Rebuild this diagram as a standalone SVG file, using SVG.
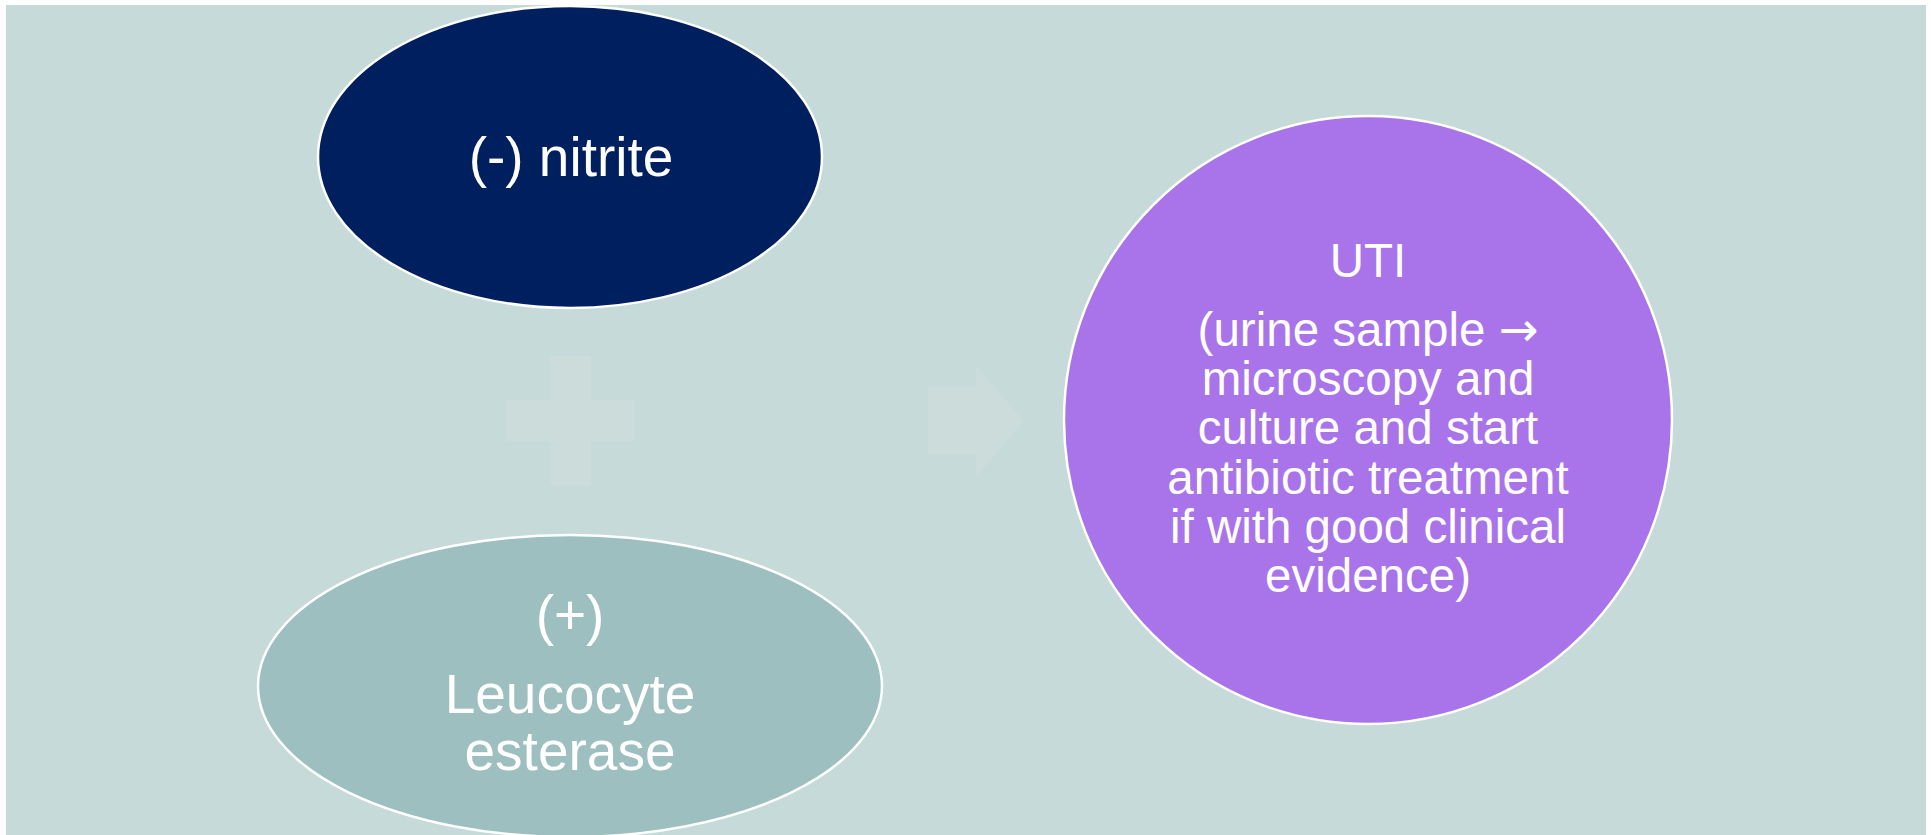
<svg xmlns="http://www.w3.org/2000/svg" width="1931" height="835" viewBox="0 0 1931 835">
<style>
.node{stroke:#FFFFFF;stroke-width:2.5}
.lbl{font-family:"Liberation Sans",Arial,sans-serif;fill:#FFFFFF;text-anchor:middle}
.big{font-size:55px}
.mid{font-size:47.5px}
.arr{font-family:"DejaVu Sans",sans-serif}
.sym{fill:#CCDCDB}
</style>
<rect x="0" y="0" width="1931" height="835" fill="#FFFFFF"/>
<rect x="6" y="5" width="1920" height="830" fill="#C5DAD9"/>
<g id="connectors">
<path class="sym" d="M550,356 H591 V400 H635 V441 H591 V486 H550 V441 H506 V400 H550 Z"/>
<path class="sym" d="M928,387 H976 V365 L1024,421 L976,477 V455 H928 Z"/>
</g>
<g id="nitrite">
<ellipse class="node" cx="570" cy="157" rx="252" ry="151" fill="#001F5F"/>
<text class="lbl big" x="571" y="176">(-) nitrite</text>
</g>
<g id="leucocyte">
<ellipse class="node" cx="570" cy="686" rx="312" ry="151" fill="#9DBFBF"/>
<text class="lbl big" x="570" y="634">(+)</text>
<text class="lbl big" x="570" y="713">Leucocyte</text>
<text class="lbl big" x="570" y="770">esterase</text>
</g>
<g id="uti">
<circle class="node" cx="1368" cy="420" r="304" fill="#A974E9"/>
<text class="lbl mid" x="1368" y="277">UTI</text>
<text class="lbl mid" x="1368" y="346">(urine sample <tspan class="arr">→</tspan></text>
<text class="lbl mid" x="1368" y="395">microscopy and</text>
<text class="lbl mid" x="1368" y="444">culture and start</text>
<text class="lbl mid" x="1368" y="494">antibiotic treatment</text>
<text class="lbl mid" x="1368" y="543">if with good clinical</text>
<text class="lbl mid" x="1368" y="592">evidence)</text>
</g>
</svg>
